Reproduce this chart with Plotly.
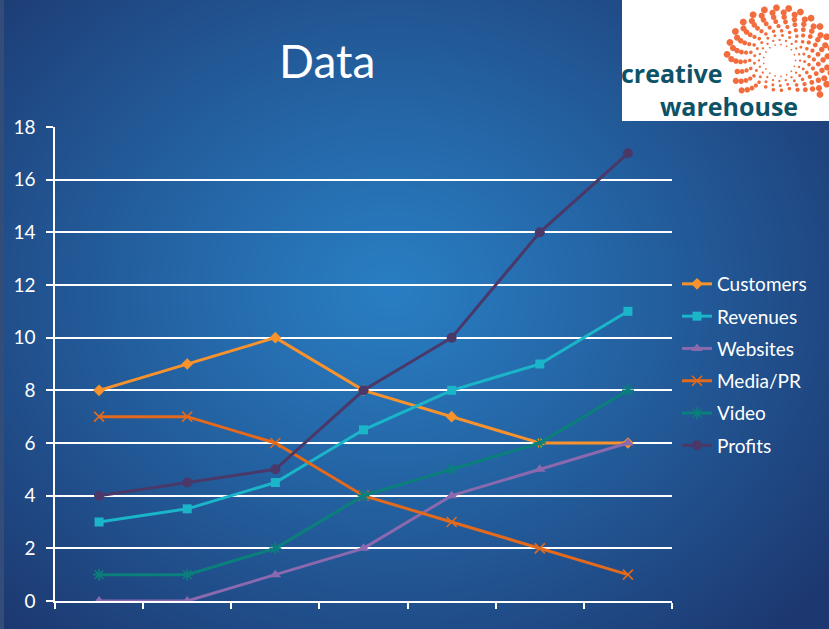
import numpy as np, zlib, struct, base64
import plotly.graph_objects as go

# ---------------- data ----------------
categories = ["1", "2", "3", "4", "5", "6", "7"]
customers = [8, 9, 10, 8, 7, 6, 6]
revenues = [3, 3.5, 4.5, 6.5, 8, 9, 11]
websites = [0, 0, 1, 2, 4, 5, 6]
media_pr = [7, 7, 6, 4, 3, 2, 1]
video = [1, 1, 2, 4, 5, 6, 8]
profits = [4, 4.5, 5, 8, 10, 14, 17]
y_ticks = list(range(0, 19, 2))

# ---------------- geometry ----------------
W, H = 829, 629
ML, MR, MT, MB = 55, 157, 127, 28
PW, PH = W - ML - MR, H - MT - MB


def px(x):
    return (x - ML) / PW


def py(y):
    return (H - MB - y) / PH


# ---------------- background image (gradient + logo mark) ----------------
yy, xx = np.mgrid[0:H, 0:W].astype(float)
cx, cy = 390, 290
d = np.sqrt(((xx - cx) / 560) ** 2 + ((yy - cy) / 470) ** 2)
t = np.clip(d, 0, 1) ** 1.1
inner = np.array([41, 126, 195], float)
outer = np.array([29, 56, 112], float)
img = inner * (1 - t[..., None]) + outer * t[..., None]
img[:, :4] = np.array([52, 76, 120], float)
img[0:121, 622:829] = 255.0

# spiral dot logo mark
lcx, lcy = 779, 60
dot_col = np.array([242, 108, 62], float)
for k in range(9):
    r = 16 + k * 4.6
    spacing = 5.6 + k * 0.8
    n = int(2 * np.pi * r / spacing)
    rad = 0.8 + k * 0.32
    off = k * 0.32
    for i in range(n):
        a = off + 2 * np.pi * i / n
        x = lcx + r * np.cos(a)
        y = lcy + r * np.sin(a)
        # keep clear of the word marks
        if 616 <= x <= 735 and 60 <= y <= 93:
            continue
        if 652 <= x <= 812 and 90 <= y <= 121:
            continue
        if y > 119 or y < 1:
            continue
        x0, x1 = int(max(622, x - rad - 2)), int(min(W, x + rad + 3))
        y0, y1 = int(max(0, y - rad - 2)), int(min(121, y + rad + 3))
        if x1 <= x0 or y1 <= y0:
            continue
        sx, sy = xx[y0:y1, x0:x1], yy[y0:y1, x0:x1]
        dist = np.sqrt((sx - x) ** 2 + (sy - y) ** 2)
        al = np.clip(rad + 0.5 - dist, 0, 1)[..., None]
        img[y0:y1, x0:x1] = img[y0:y1, x0:x1] * (1 - al) + dot_col * al

arr = np.clip(img, 0, 255).astype(np.uint8)


def to_png(a):
    h, w, _ = a.shape
    raw = b"".join(b"\x00" + a[r].tobytes() for r in range(h))

    def chunk(tag, data):
        c = struct.pack(">I", len(data)) + tag + data
        return c + struct.pack(">I", zlib.crc32(tag + data) & 0xFFFFFFFF)

    return (b"\x89PNG\r\n\x1a\n" + chunk(b"IHDR", struct.pack(">IIBBBBB", w, h, 8, 2, 0, 0, 0))
            + chunk(b"IDAT", zlib.compress(raw, 9)) + chunk(b"IEND", b""))


bg_uri = "data:image/png;base64," + base64.b64encode(to_png(arr)).decode()

# ---------------- traces ----------------
series = [
    ("Customers", customers, "#F7922D", dict(symbol="diamond", size=9)),
    ("Revenues", revenues, "#1AB5C9", dict(symbol="square", size=9)),
    ("Websites", websites, "#8A69AE", dict(symbol="triangle-up", size=10)),
    ("Media/PR", media_pr, "#E36A1C", dict(symbol="x-thin-open", size=10, line=dict(width=1.6, color="#E36A1C"))),
    ("Video", video, "#0A7F7B", dict(symbol="asterisk-open", size=10, line=dict(width=1.6, color="#0A7F7B"))),
    ("Profits", profits, "#4A3869", dict(symbol="circle", size=10)),
]

fig = go.Figure()
for name, vals, col, mk in series:
    mk = dict(mk)
    mk["color"] = col
    fig.add_trace(go.Scatter(x=categories, y=vals, name=name, mode="lines+markers",
                             line=dict(color=col, width=3), marker=mk,
                             legendgroup=name))

fig.update_layout(
    width=W, height=H, autosize=False,
    margin=dict(l=ML, r=MR, t=MT, b=MB),
    paper_bgcolor="#1D3A70", plot_bgcolor="rgba(0,0,0,0)",
    font=dict(family="Lato, 'Open Sans', sans-serif", color="white"),
    showlegend=True,
    legend=dict(x=px(677), y=py(265), xanchor="left", yanchor="top",
                font=dict(size=19, color="white"), bgcolor="rgba(0,0,0,0)",
                tracegroupgap=4.6, traceorder="grouped"),
    xaxis=dict(type="category", range=[-0.5, 6.5], showticklabels=False,
               tickson="boundaries", ticks="outside", ticklen=6, tickcolor="white",
               tickwidth=1.5, showline=True, linecolor="white", linewidth=1.5,
               showgrid=False, zeroline=False),
    yaxis=dict(range=[0, 18], tickvals=y_ticks, showgrid=True, gridcolor="white",
               gridwidth=1.5, showline=True, linecolor="white", linewidth=1.5,
               ticks="outside", ticklen=7, tickcolor="white", tickwidth=1.5,
               tickfont=dict(size=19, color="white"), ticklabelstandoff=7,
               zeroline=False),
    images=[dict(source=bg_uri, xref="paper", yref="paper", x=px(0), y=py(0),
                 sizex=W / PW, sizey=H / PH, xanchor="left", yanchor="top",
                 sizing="stretch", layer="below")],
    annotations=[
        dict(text="Data", x=px(327), y=py(60), xref="paper", yref="paper",
             showarrow=False, xanchor="center", yanchor="middle",
             font=dict(size=46, color="white", family="Lato, sans-serif")),
        dict(text="<b>creative</b><br>" + "&nbsp;" * 6 + "<b>warehouse</b>",
             x=px(619), y=py(125), xref="paper", yref="paper",
             showarrow=False, xanchor="left", yanchor="bottom", align="left",
             font=dict(size=25, color="#0D5266", family="'Open Sans', sans-serif")),
    ],
)

fig.write_html("out.html")
